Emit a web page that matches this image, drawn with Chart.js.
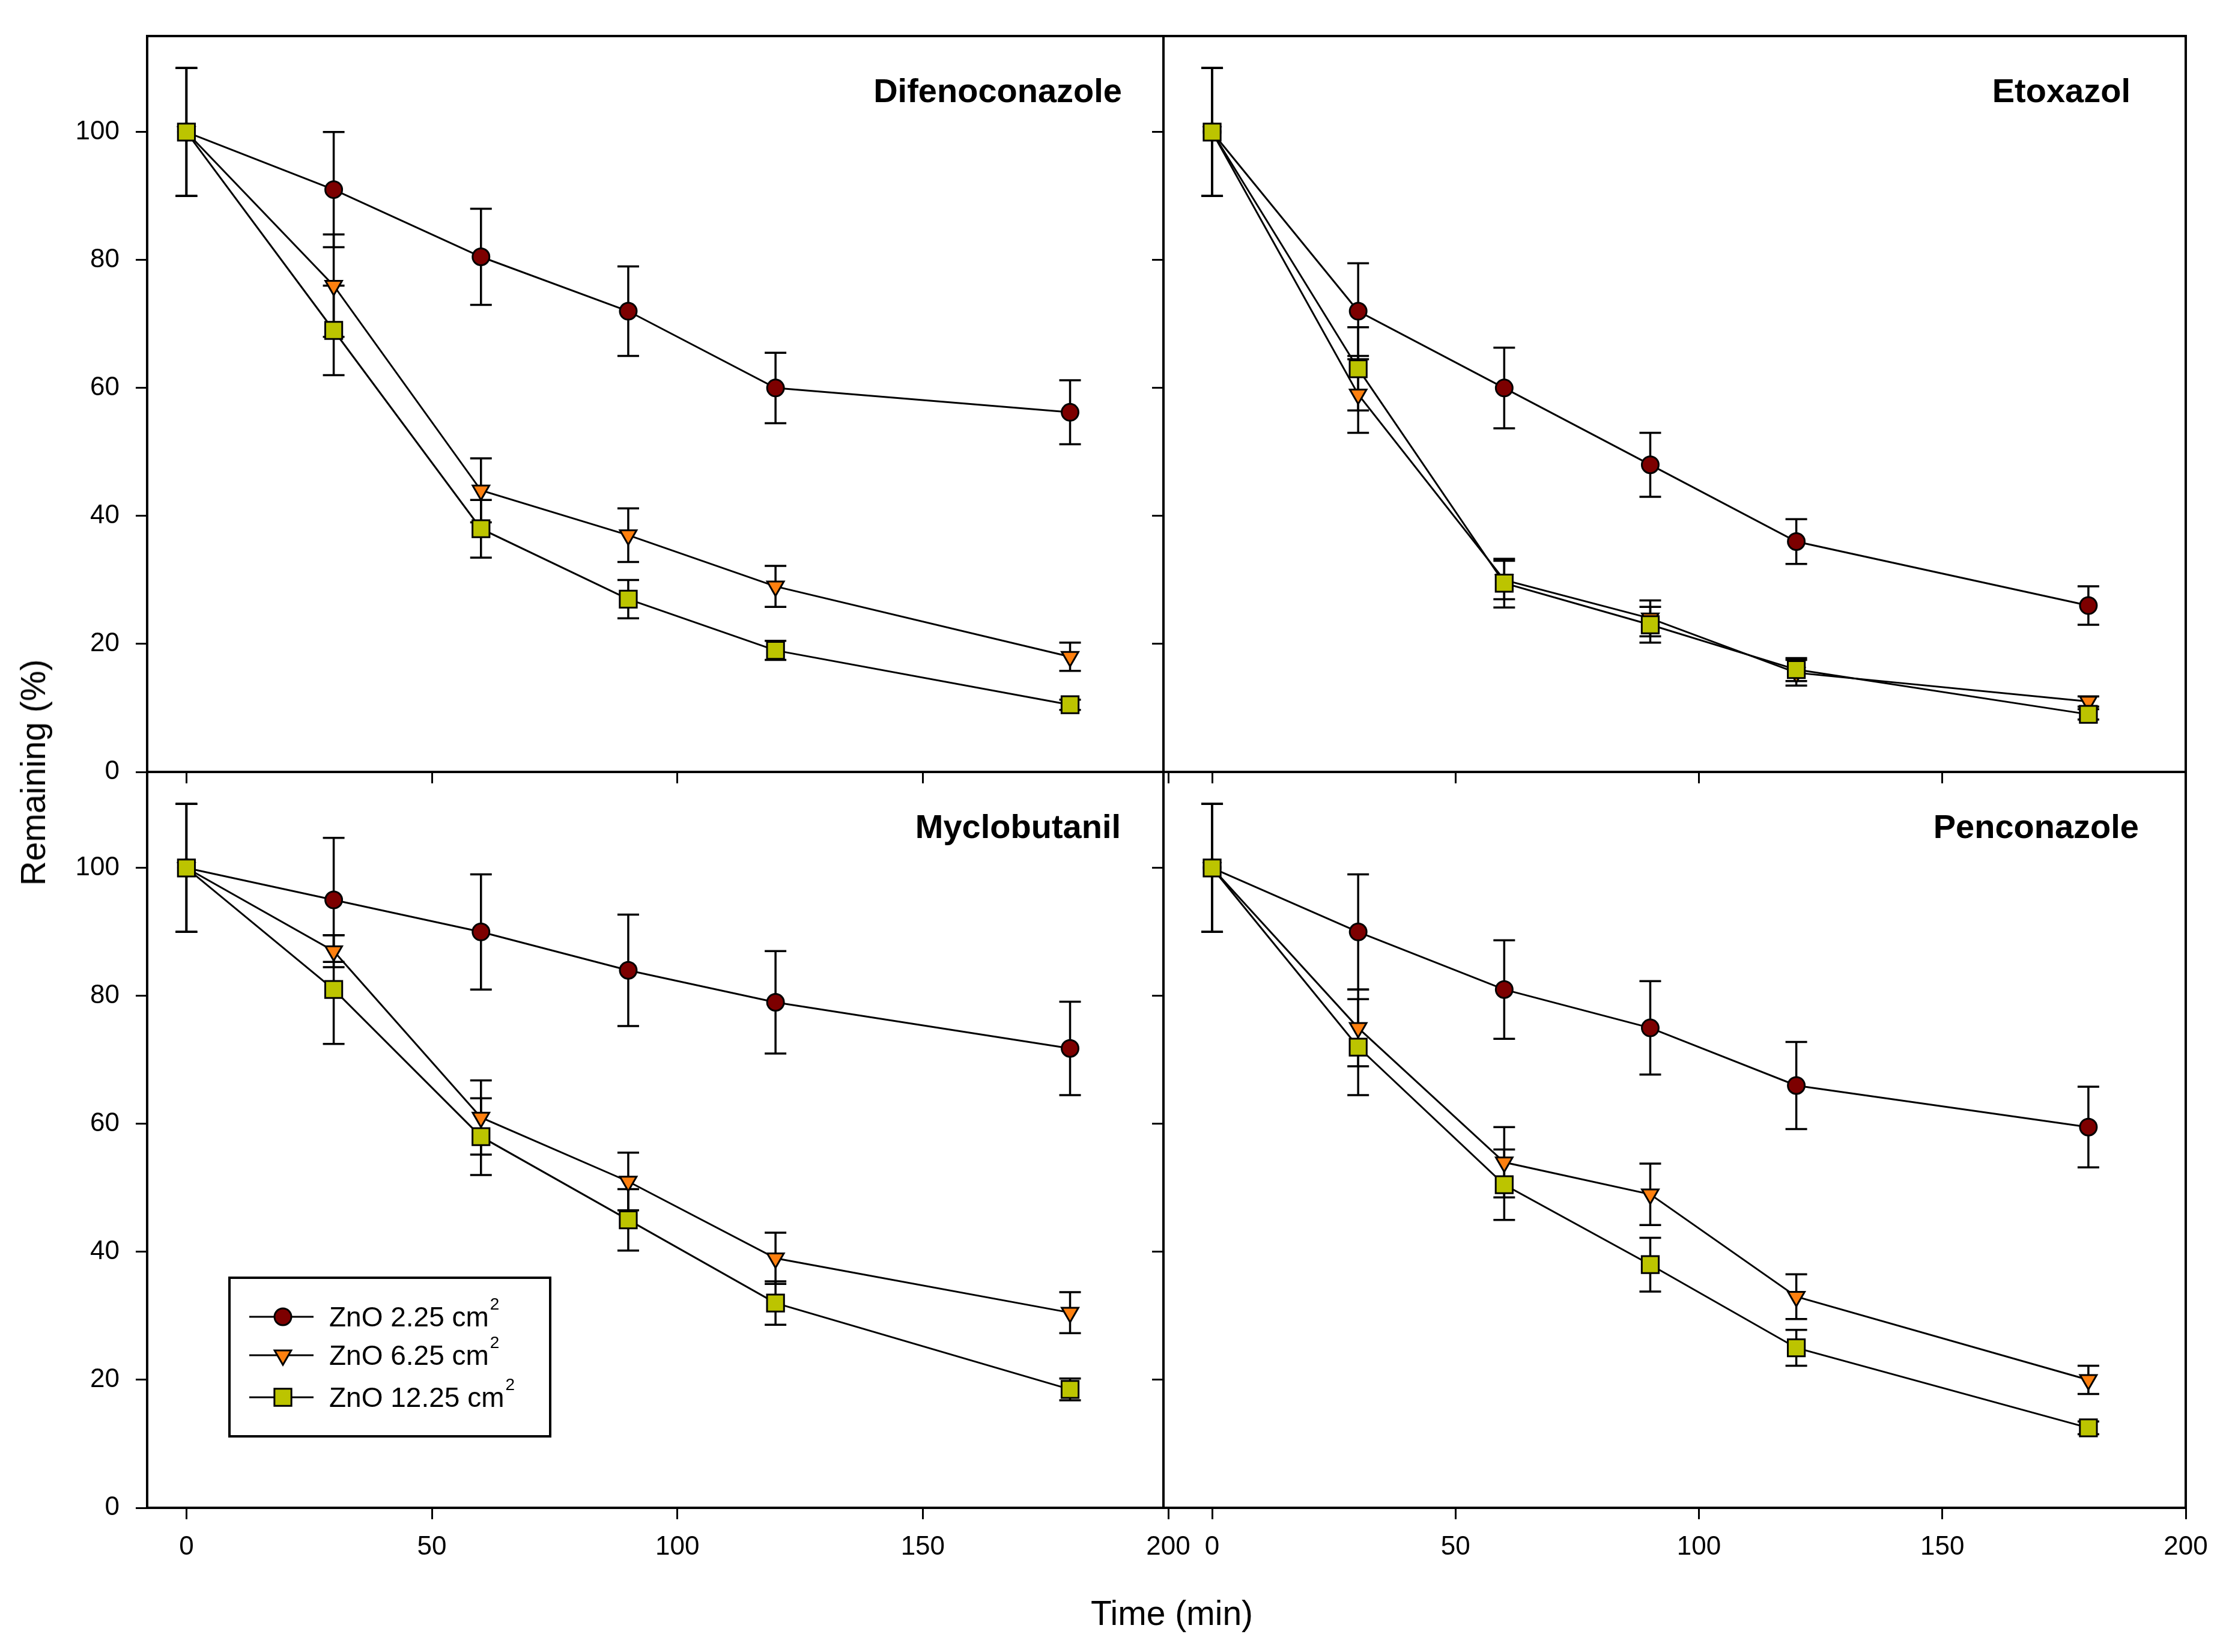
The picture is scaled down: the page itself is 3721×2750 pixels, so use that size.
<!DOCTYPE html>
<html>
<head>
<meta charset="utf-8">
<script src="https://cdn.jsdelivr.net/npm/chart.js@4.4.1/dist/chart.umd.min.js"></script>
<style>
  html, body { margin: 0; padding: 0; background: #fff; }
  #wrap { position: relative; width: 3721px; height: 2750px; background: #fff; overflow: hidden; }
  #wrap canvas { position: absolute; left: 0; top: 0; }
  .axtitle { position: absolute; font-family: "Liberation Sans", Arial, sans-serif; font-size: 57px; color: #000; white-space: nowrap; }
  #ytitle { left: 55px; top: 1286px; transform: translate(-50%, -50%) rotate(-90deg); }
  #xtitle { left: 1951px; top: 2685px; transform: translate(-50%, -50%); }
</style>
</head>
<body>
<div id="wrap">
  <canvas id="c0" width="3721" height="2750"></canvas>
  <canvas id="c1" width="3721" height="2750"></canvas>
  <canvas id="c2" width="3721" height="2750"></canvas>
  <canvas id="c3" width="3721" height="2750"></canvas>
  <div class="axtitle" id="ytitle">Remaining (%)</div>
  <div class="axtitle" id="xtitle">Time (min)</div>
</div>
<script>
// ---------------- DATA ----------------
const times = [0, 30, 60, 90, 120, 180];
const seriesLabels = ["ZnO 2.25 cm\u00B2", "ZnO 6.25 cm\u00B2", "ZnO 12.25 cm\u00B2"];
const panelNames = ["Difenoconazole", "Etoxazol", "Myclobutanil", "Penconazole"];
const xTickValues = [0, 50, 100, 150, 200];
const yTickValues = [0, 20, 40, 60, 80, 100];

// Difenoconazole
const difen225 = [100, 91, 80.5, 72, 60, 56.2];
const difen225Err = [10, 9, 7.5, 7, 5.5, 5];
const difen625 = [100, 76, 44, 37, 29, 18];
const difen625Err = [10, 8, 5, 4.2, 3.2, 2.2];
const difen1225 = [100, 69, 38, 27, 19, 10.5];
const difen1225Err = [10, 7, 4.5, 3, 1.5, 0.8];

// Etoxazol
const etox225 = [100, 72, 60, 48, 36, 26];
const etox225Err = [10, 7.5, 6.3, 5, 3.5, 3];
const etox625 = [100, 59, 30, 24, 15.5, 11];
const etox625Err = [10, 6, 3, 2.8, 2, 0.8];
const etox1225 = [100, 63, 29.5, 23, 16, 9];
const etox1225Err = [10, 6.5, 3.8, 2.8, 1.8, 0.8];

// Myclobutanil
const myclo225 = [100, 95, 90, 84, 79, 71.8];
const myclo225Err = [10, 9.7, 9, 8.7, 8, 7.3];
const myclo625 = [100, 87, 61, 51, 39, 30.5];
const myclo625Err = [10, 2.5, 5.8, 4.5, 4, 3.2];
const myclo1225 = [100, 81, 58, 45, 32, 18.5];
const myclo1225Err = [10, 8.5, 6, 4.8, 3.4, 1.7];

// Penconazole
const pencon225 = [100, 90, 81, 75, 66, 59.5];
const pencon225Err = [10, 9, 7.7, 7.3, 6.8, 6.3];
const pencon625 = [100, 75, 54, 49, 33, 20];
const pencon625Err = [10, 6, 5.5, 4.8, 3.5, 2.2];
const pencon1225 = [100, 72, 50.5, 38, 25, 12.5];
const pencon1225Err = [10, 7.5, 5.5, 4.2, 2.8, 1];

// ---------------- STYLE / LAYOUT ----------------
const FONT = '"Liberation Sans", Arial, sans-serif';
const seriesStyles = [
  { pointStyle: 'circle', radius: 14, rotation: 0, color: '#7d0000', order: 2 },
  { pointStyle: 'triangle', radius: 16, rotation: 180, color: '#ff800f', order: 1 },
  { pointStyle: 'rect', radius: 20, rotation: 0, color: '#bcc400', order: 0 }
];
const panels = [
  { name: panelNames[0], vals: [difen225, difen625, difen1225], errs: [difen225Err, difen625Err, difen1225Err],
    area: { l: 245, r: 1945, t: 60, b: 1285 }, xmin: -8, xLabels: false, yLabels: true, titleOff: 77, legend: false, rightEdge: false },
  { name: panelNames[1], vals: [etox225, etox625, etox1225], errs: [etox225Err, etox625Err, etox1225Err],
    area: { l: 1937, r: 3639, t: 60, b: 1285 }, xmin: -10, xLabels: false, yLabels: false, titleOff: 92, legend: false, rightEdge: true },
  { name: panelNames[2], vals: [myclo225, myclo625, myclo1225], errs: [myclo225Err, myclo625Err, myclo1225Err],
    area: { l: 245, r: 1945, t: 1285, b: 2510 }, xmin: -8, xLabels: true, yLabels: true, titleOff: 79, legend: true, rightEdge: false },
  { name: panelNames[3], vals: [pencon225, pencon625, pencon1225], errs: [pencon225Err, pencon625Err, pencon1225Err],
    area: { l: 1937, r: 3639, t: 1285, b: 2510 }, xmin: -10, xLabels: true, yLabels: false, titleOff: 78, legend: false, rightEdge: true }
];
const W = 3721, H = 2750, YW = 200, XH = 150;

// ---------------- PLUGINS ----------------
const errorBars = {
  id: 'errorBars',
  beforeDatasetsDraw(chart) {
    const { ctx } = chart;
    const xs = chart.scales.x, ys = chart.scales.y;
    ctx.save();
    ctx.strokeStyle = '#000';
    ctx.lineWidth = 3.5;
    chart.data.datasets.forEach(ds => {
      ds.data.forEach((p, i) => {
        const e = ds.errors[i];
        if (!e) return;
        const px = xs.getPixelForValue(p.x);
        const top = ys.getPixelForValue(p.y + e);
        const bot = ys.getPixelForValue(p.y - e);
        ctx.beginPath();
        ctx.moveTo(px, top); ctx.lineTo(px, bot);
        ctx.moveTo(px - 18, top); ctx.lineTo(px + 18, top);
        ctx.moveTo(px - 18, bot); ctx.lineTo(px + 18, bot);
        ctx.stroke();
      });
    });
    ctx.restore();
  }
};

const frameAndTitle = {
  id: 'frameAndTitle',
  afterDraw(chart, args, opts) {
    const { ctx, chartArea: a } = chart;
    ctx.save();
    ctx.strokeStyle = '#000';
    ctx.lineWidth = 4;
    ctx.lineCap = 'square';
    ctx.beginPath();
    ctx.moveTo(a.left, a.top); ctx.lineTo(a.left, a.bottom);
    ctx.moveTo(a.left, a.top); ctx.lineTo(a.right, a.top);
    ctx.moveTo(a.left, a.bottom); ctx.lineTo(a.right, a.bottom);
    if (opts.rightEdge) { ctx.moveTo(a.right, a.top); ctx.lineTo(a.right, a.bottom); }
    ctx.stroke();
    ctx.fillStyle = '#000';
    ctx.font = 'bold 56px ' + FONT;
    ctx.textAlign = 'right';
    ctx.textBaseline = 'middle';
    ctx.fillText(opts.title, a.right - opts.off, a.top + 95);
    ctx.restore();
  }
};

const boxLegend = {
  id: 'boxLegend',
  afterDraw(chart, args, opts) {
    if (!opts.show) return;
    const { ctx, chartArea: a } = chart;
    const bx = a.left + 137, by = a.top + 842, bw = 534, bh = 264;
    ctx.save();
    ctx.fillStyle = '#fff';
    ctx.fillRect(bx, by, bw, bh);
    ctx.strokeStyle = '#000';
    ctx.lineWidth = 4;
    ctx.strokeRect(bx, by, bw, bh);
    const rowsY = [by + 65, by + 129, by + 199];
    chart.data.datasets.slice().sort((p, q) => p.legendIndex - q.legendIndex).forEach((ds, i) => {
      const y = rowsY[i];
      ctx.strokeStyle = '#000';
      ctx.lineWidth = 3;
      ctx.beginPath();
      ctx.moveTo(bx + 33, y); ctx.lineTo(bx + 140, y);
      ctx.stroke();
      ctx.fillStyle = ds.pointBackgroundColor;
      ctx.strokeStyle = '#000';
      ctx.lineWidth = 3;
      Chart.helpers.drawPoint(ctx, {
        pointStyle: ds.pointStyle, radius: ds.pointRadius, rotation: ds.pointRotation,
        borderWidth: 3
      }, bx + 89, y);
      const label = ds.label;
      const base = label.endsWith('\u00B2') ? label.slice(0, -1) : label;
      ctx.fillStyle = '#000';
      ctx.textAlign = 'left';
      ctx.textBaseline = 'middle';
      ctx.font = '46px ' + FONT;
      ctx.fillText(base, bx + 166, y + 3);
      if (base !== label) {
        const w = ctx.measureText(base).width;
        ctx.font = '28px ' + FONT;
        ctx.fillText('2', bx + 168 + w, y - 20);
      }
    });
    ctx.restore();
  }
};

// ---------------- CHARTS ----------------
panels.forEach((p, idx) => {
  const datasets = p.vals.map((vals, s) => {
    const st = seriesStyles[s];
    return {
      label: seriesLabels[s],
      legendIndex: s,
      data: times.map((t, i) => ({ x: t, y: vals[i] })),
      errors: p.errs[s],
      borderColor: '#000',
      borderWidth: 3,
      pointStyle: st.pointStyle,
      pointRadius: st.radius,
      pointRotation: st.rotation,
      pointBackgroundColor: st.color,
      pointBorderColor: '#000',
      pointBorderWidth: 3,
      fill: false,
      tension: 0,
      order: st.order,
      clip: false
    };
  });
  const a = p.area;
  new Chart(document.getElementById('c' + idx), {
    type: 'line',
    data: { datasets },
    plugins: [errorBars, frameAndTitle, boxLegend],
    options: {
      responsive: false,
      animation: false,
      devicePixelRatio: 1,
      layout: { padding: { left: a.l - YW, right: W - a.r, top: a.t, bottom: H - a.b - XH } },
      plugins: {
        legend: { display: false },
        tooltip: { enabled: false },
        frameAndTitle: { title: p.name, off: p.titleOff, rightEdge: p.rightEdge },
        boxLegend: { show: p.legend }
      },
      scales: {
        x: {
          type: 'linear', min: p.xmin, max: 200,
          afterBuildTicks: s => { s.ticks = xTickValues.map(v => ({ value: v })); },
          afterFit: s => { s.height = XH; },
          grid: { display: true, drawOnChartArea: false, drawTicks: true, tickLength: 19, color: '#000', lineWidth: 3 },
          border: { display: false },
          ticks: { display: p.xLabels, color: '#000', padding: 20, maxRotation: 0, font: { family: FONT, size: 44 } }
        },
        y: {
          type: 'linear', min: 0, max: 115,
          afterBuildTicks: s => { s.ticks = yTickValues.map(v => ({ value: v })); },
          afterFit: s => { s.width = YW; },
          grid: { display: true, drawOnChartArea: false, drawTicks: true, tickLength: 19, color: '#000', lineWidth: 3 },
          border: { display: false },
          ticks: { display: p.yLabels, color: '#000', padding: 27, font: { family: FONT, size: 44 } }
        }
      }
    }
  });
});
</script>
</body>
</html>
